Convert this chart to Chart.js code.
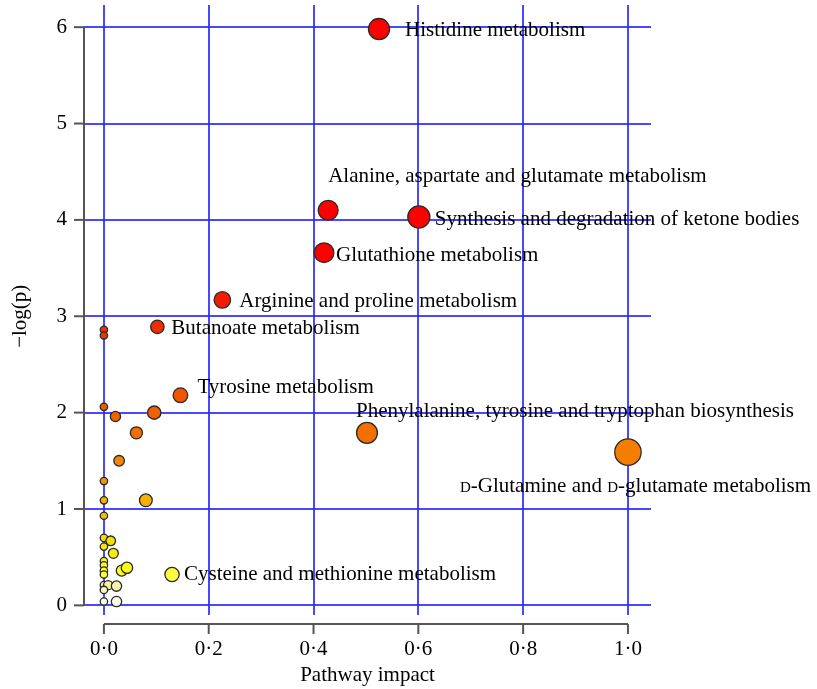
<!DOCTYPE html>
<html><head><meta charset="utf-8">
<script src="https://cdn.jsdelivr.net/npm/chart.js@4.4.0/dist/chart.umd.min.js"></script>
<style>html,body{margin:0;padding:0;background:#fff;}#wrap{width:817px;height:689px;}</style>
</head><body><div id="wrap"><canvas id="c" width="817" height="689"></canvas></div>
<script>
// ---- data ----
const labelledNames = [
  "Histidine metabolism",
  "Alanine, aspartate and glutamate metabolism",
  "Synthesis and degradation of ketone bodies",
  "Glutathione metabolism",
  "Arginine and proline metabolism",
  "Butanoate metabolism",
  "Tyrosine metabolism",
  "Phenylalanine, tyrosine and tryptophan biosynthesis",
  "D-Glutamine and D-glutamate metabolism",
  "Cysteine and methionine metabolism"
];
const labelledImpact  = [0.525, 0.428, 0.601, 0.420, 0.226, 0.102, 0.146, 0.502, 1.0, 0.130];
const labelledNegLogP = [5.98, 4.10, 4.03, 3.66, 3.17, 2.89, 2.18, 1.79, 1.59, 0.32];

const otherImpact  = [0, 0, 0, 0.022, 0.096, 0.062, 0.029, 0, 0.080, 0, 0, 0, 0.013, 0, 0.018, 0, 0, 0, 0, 0.034, 0.044, 0, 0.008, 0.024, 0, 0, 0.024];
const otherNegLogP = [2.86, 2.80, 2.06, 1.96, 2.00, 1.79, 1.50, 1.29, 1.09, 1.09, 0.93, 0.70, 0.67, 0.61, 0.54, 0.46, 0.415, 0.36, 0.32, 0.36, 0.39, 0.21, 0.21, 0.20, 0.16, 0.04, 0.04];

const xTickValues = [0, 0.2, 0.4, 0.6, 0.8, 1.0];
const yTickValues = [0, 1, 2, 3, 4, 5, 6];
const xTitle = "Pathway impact";
const yTitle = "\u2212log(p)";

// ---- styles ----
const FONT = '"Liberation Serif", "Times New Roman", serif';
const FS = 21;
const gridBlue = 'rgba(40,40,255,0.85)';
const labelOffsets = [[26,0],[0,-35],[16,1],[12,1],[17,0],[14,0],[17,-9],[-11,-23],[-168,33],[12,-2]];
const colourStops = [
  [0.0, 255,255,255],[0.2, 248,245,175],[0.35, 255,255,30],[0.6, 245,232,0],
  [0.93, 240,192,0],[1.1, 245,175,0],[1.3, 240,148,0],[1.6, 245,125,0],
  [2.0, 240,95,0],[2.5, 240,65,0],[2.9, 240,45,0],[3.2, 245,25,0],[3.6, 255,0,0],[7, 255,0,0]
];
function colourFor(v){
  for(let i=1;i<colourStops.length;i++){
    const a=colourStops[i-1], b=colourStops[i];
    if(v<=b[0]){
      const t=Math.max(0,(v-a[0])/(b[0]-a[0]));
      const c=[1,2,3].map(k=>Math.round(a[k]+(b[k]-a[k])*t));
      return `rgb(${c[0]},${c[1]},${c[2]})`;
    }
  }
  return 'rgb(255,0,0)';
}
function radiusFor(x){ return 3.7 + 9.5*Math.sqrt(x); }

function pts(xs, ys){ return xs.map((x,i)=>({x:x, y:ys[i]})); }

function drawMixed(ctx, text, x, y){
  const parts = text.split(/(D(?=-))/);
  let cx = x;
  for(const p of parts){
    if(!p) continue;
    const small = (p === 'D');
    ctx.font = (small ? Math.round(FS*0.72) : FS) + 'px ' + FONT;
    ctx.fillText(p, cx, y);
    cx += ctx.measureText(p).width;
  }
}

const decor = {
  id:'decor',
  afterDraw(chart){
    const ctx = chart.ctx;
    const xs = chart.scales.x, ys = chart.scales.y;
    ctx.save();
    ctx.strokeStyle = '#555';
    ctx.lineWidth = 2;
    // y axis line
    const ax = chart.chartArea.left;
    const y0 = ys.getPixelForValue(yTickValues[0]);
    const y1 = ys.getPixelForValue(yTickValues[yTickValues.length-1]);
    ctx.beginPath(); ctx.moveTo(ax, y0); ctx.lineTo(ax, y1); ctx.stroke();
    for(const v of yTickValues){
      const p = ys.getPixelForValue(v);
      ctx.beginPath(); ctx.moveTo(ax-10, p); ctx.lineTo(ax, p); ctx.stroke();
    }
    // x axis line
    const ay = chart.chartArea.bottom + 9;
    const x0 = xs.getPixelForValue(xTickValues[0]);
    const x1 = xs.getPixelForValue(xTickValues[xTickValues.length-1]);
    ctx.beginPath(); ctx.moveTo(x0, ay); ctx.lineTo(x1, ay); ctx.stroke();
    for(const v of xTickValues){
      const p = xs.getPixelForValue(v);
      ctx.beginPath(); ctx.moveTo(p, ay); ctx.lineTo(p, ay+10); ctx.stroke();
    }
    // y title
    ctx.fillStyle = '#000';
    ctx.save();
    ctx.translate(20, (y0 + y1) / 2);
    ctx.rotate(-Math.PI/2);
    ctx.textAlign = 'center';
    ctx.textBaseline = 'middle';
    ctx.font = FS + 'px ' + FONT;
    ctx.fillText(yTitle, 0, 0);
    ctx.restore();
    // point labels
    const meta = chart.getDatasetMeta(1);
    ctx.textBaseline = 'alphabetic';
    ctx.textAlign = 'left';
    labelledNames.forEach((name,i)=>{
      const el = meta.data[i];
      const o = labelOffsets[i];
      drawMixed(ctx, name, el.x + o[0], el.y + o[1] + 7);
    });
    ctx.restore();
  }
};

new Chart(document.getElementById('c'), {
  type:'scatter',
  data:{
    datasets:[
      { label:'other', data: pts(otherImpact, otherNegLogP),
        pointRadius: c => radiusFor(c.raw.x),
        pointBackgroundColor: c => colourFor(c.raw.y),
        pointBorderColor:'#2a2a2a', pointBorderWidth:1.3 },
      { label:'labelled', data: pts(labelledImpact, labelledNegLogP),
        pointRadius: c => radiusFor(c.raw.x),
        pointBackgroundColor: c => colourFor(c.raw.y),
        pointBorderColor:'#2a2a2a', pointBorderWidth:1.3 }
    ]
  },
  options:{
    responsive:false, animation:false,
    layout:{ autoPadding:false, padding:{ left:0, top:5, right:166, bottom:0 } },
    plugins:{ legend:{display:false}, tooltip:{enabled:false} },
    scales:{
      x:{
        type:'linear', min:-0.038, max:1.044,
        afterFit(s){ s.height = 74; s.paddingLeft = 0; s.paddingRight = 0; },
        border:{display:false},
        grid:{ color:gridBlue, lineWidth:2, drawTicks:false },
        ticks:{ stepSize:0.2, includeBounds:false, padding:22, maxRotation:0, autoSkip:false,
          color:'#000', font:{family:FONT, size:FS},
          callback:v => v.toFixed(1).replace('.', '\u00B7') },
        title:{ display:true, text:xTitle, color:'#000', font:{family:FONT, size:FS}, padding:{top:0,bottom:1} }
      },
      y:{
        type:'linear', min:-0.1, max:6.23,
        afterFit(s){ s.width = 84; s.paddingTop = 0; s.paddingBottom = 0; },
        border:{display:false},
        grid:{ color:gridBlue, lineWidth:2, drawTicks:false },
        ticks:{ stepSize:1, includeBounds:false, padding:17, color:'#000', font:{family:FONT, size:FS},
          callback:v => String(v) },
        title:{ display:false }
      }
    }
  },
  plugins:[decor]
});
</script></body></html>
